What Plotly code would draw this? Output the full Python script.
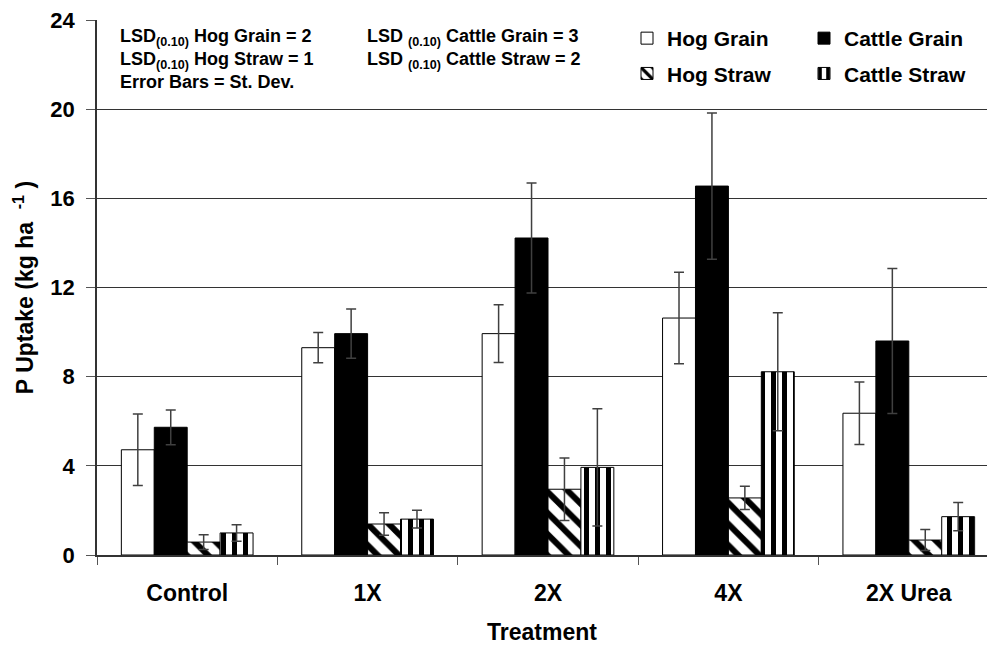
import plotly.graph_objects as go

treatments = ["Control", "1X", "2X", "4X", "2X Urea"]

hog_grain = [4.72, 9.30, 9.93, 10.63, 6.36]
hog_grain_sd = [1.60, 0.68, 1.30, 2.05, 1.40]
cattle_grain = [5.73, 9.93, 14.22, 16.55, 9.60]
cattle_grain_sd = [0.78, 1.10, 2.47, 3.28, 3.25]
hog_straw = [0.58, 1.39, 2.95, 2.56, 0.67]
hog_straw_sd = [0.33, 0.50, 1.40, 0.52, 0.47]
cattle_straw = [0.99, 1.61, 3.93, 8.22, 1.72]
cattle_straw_sd = [0.37, 0.40, 2.63, 2.65, 0.63]

FONT = "Arial, Liberation Sans, sans-serif"
ERR = dict(type="data", visible=True, color="#404040", thickness=1.5, width=5)

fig = go.Figure()
fig.add_trace(go.Bar(
    name="<b>Hog Grain</b>", x=treatments, y=hog_grain,
    error_y=dict(array=hog_grain_sd, **ERR),
    marker=dict(color="white", line=dict(color="black", width=1)),
    legend="legend", legendgroup="g1"))
fig.add_trace(go.Bar(
    name="<b>Cattle Grain</b>", x=treatments, y=cattle_grain,
    error_y=dict(array=cattle_grain_sd, **ERR),
    marker=dict(color="black", line=dict(color="black", width=1)),
    legend="legend2", legendgroup="g2"))
fig.add_trace(go.Bar(
    name="<b>Hog Straw</b>", x=treatments, y=hog_straw,
    error_y=dict(array=hog_straw_sd, **ERR),
    marker=dict(color="white", line=dict(color="black", width=1),
                pattern=dict(shape="\\", fgcolor="black", bgcolor="white",
                             fgopacity=1, size=15, solidity=0.4)),
    legend="legend", legendgroup="g3"))
fig.add_trace(go.Bar(
    name="<b>Cattle Straw</b>", x=treatments, y=cattle_straw,
    error_y=dict(array=cattle_straw_sd, **ERR),
    marker=dict(color="white", line=dict(color="black", width=1),
                pattern=dict(shape="|", fgcolor="black", bgcolor="white",
                             fgopacity=1, size=11, solidity=0.45)),
    legend="legend2", legendgroup="g4"))

ann_font = dict(family=FONT, size=18, color="black")
lines = [
    ("LSD<sub>(0.10)</sub> Hog Grain = 2", 118, 38),
    ("LSD<sub>(0.10)</sub> Hog Straw = 1", 118, 60),
    ("Error Bars = St. Dev.", 118, 82),
    ("LSD <sub>(0.10)</sub> Cattle Grain = 3", 365, 38),
    ("LSD <sub>(0.10)</sub> Cattle Straw = 2", 365, 60),
]
annotations = []
for txt, px, py in lines:
    annotations.append(dict(
        text="<b>" + txt + "</b>", xref="paper", yref="paper",
        x=(px - 97) / 890, y=(555 - py) / 535,
        xanchor="left", yanchor="middle", showarrow=False, font=ann_font))

leg_font = dict(family=FONT, size=21, color="black")
fig.update_layout(
    width=987, height=645,
    margin=dict(l=97, r=0, t=20, b=90),
    paper_bgcolor="white", plot_bgcolor="white",
    barmode="group", bargap=0.27, bargroupgap=0,
    font=dict(family=FONT, color="black"),
    annotations=annotations,
    legend=dict(x=(627 - 97) / 890, y=(555 - 18) / 535, xanchor="left", yanchor="top",
                orientation="v", font=leg_font, bgcolor="rgba(0,0,0,0)",
                tracegroupgap=5, itemwidth=30, traceorder="grouped"),
    legend2=dict(x=(804 - 97) / 890, y=(555 - 18) / 535, xanchor="left", yanchor="top",
                 orientation="v", font=leg_font, bgcolor="rgba(0,0,0,0)",
                 tracegroupgap=5, itemwidth=30, traceorder="grouped"),
    xaxis=dict(
        type="category", range=[-0.5, 4.4335],
        showline=True, linecolor="#333333", linewidth=1.5,
        ticks="outside", tickson="boundaries", ticklen=8, tickcolor="#555555",
        tickfont=dict(family=FONT, size=23, color="black"),
        ticklabelstandoff=17,
        tickprefix="<b>", ticksuffix="</b>",
        title=dict(text="<b>Treatment</b>", font=dict(family=FONT, size=23),
                   standoff=20),
        showgrid=False),
    yaxis=dict(
        range=[0, 24], dtick=4, tick0=0,
        showline=True, linecolor="#333333", linewidth=1.5,
        ticks="outside", ticklen=9, tickcolor="#555555",
        tickfont=dict(family=FONT, size=22, color="black"),
        ticklabelstandoff=7,
        tickprefix="<b>", ticksuffix="</b>",
        showgrid=True, gridcolor="#333333", gridwidth=1,
        zeroline=False,
        title=dict(text="<b>P Uptake (kg ha  <sup>-1</sup> )</b>",
                   font=dict(family=FONT, size=23), standoff=10)),
)

fig.write_html("out.html")
